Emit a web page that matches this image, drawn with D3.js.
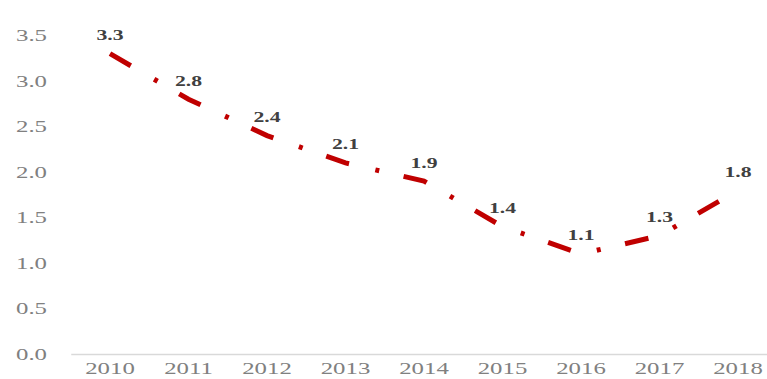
<!DOCTYPE html>
<html>
<head>
<meta charset="utf-8">
<script src="https://cdn.jsdelivr.net/npm/d3@7"></script>
<style>
  html, body { margin: 0; padding: 0; background: #fff; }
  svg { display: block; }
</style>
</head>
<body>
<svg id="chart" width="767" height="379"></svg>
<script>
const years = ["2010","2011","2012","2013","2014","2015","2016","2017","2018"];
const values = [3.3, 2.8, 2.4, 2.1, 1.9, 1.4, 1.1, 1.3, 1.8];
const yTicks = [0, 0.5, 1.0, 1.5, 2.0, 2.5, 3.0, 3.5];

const W = 767, H = 379;
const stretch = 1.55;
const svg = d3.select("#chart");

const x = d3.scaleBand().domain(years).range([70.75, 777.25]).padding(0);
const y = d3.scaleLinear().domain([0, 3.5]).range([354, 35.5]);
const cx = d => x(d) + x.bandwidth() / 2;

// X axis
const xAxis = svg.append("g")
  .attr("transform", "translate(0,354)")
  .call(d3.axisBottom(x).tickSize(0).tickPadding(9));
xAxis.select(".domain").attr("stroke", "#d9d9d9").attr("stroke-width", 1.5);
xAxis.selectAll("text")
  .attr("font-family", "'Liberation Serif', 'Times New Roman', serif")
  .attr("font-size", 16)
  .attr("fill", "#808080")
  .attr("transform", `scale(${stretch},1)`);

// Y axis (labels only)
const yAxis = svg.append("g")
  .attr("transform", "translate(71,0)")
  .call(d3.axisLeft(y).tickValues(yTicks).tickFormat(d3.format(".1f")).tickSize(0));
yAxis.select(".domain").remove();
yAxis.selectAll("text")
  .attr("x", 0)
  .attr("font-family", "'Liberation Serif', 'Times New Roman', serif")
  .attr("font-size", 16)
  .attr("fill", "#808080")
  .attr("transform", `translate(-24,0) scale(${stretch},1)`);

// Line
const line = d3.line()
  .x((d, i) => cx(years[i]))
  .y(d => y(d));

svg.append("path")
  .datum(values)
  .attr("d", line)
  .attr("fill", "none")
  .attr("stroke", "#c00000")
  .attr("stroke-width", 5)
  .attr("stroke-dasharray", "24,27,4,25");

// Data labels
svg.append("g").selectAll("text")
  .data(values)
  .join("text")
  .attr("transform", (d, i) => `translate(${cx(years[i])},${y(d) - 13.5}) scale(${stretch},1)`)
  .attr("text-anchor", "middle")
  .attr("font-family", "'Liberation Serif', 'Times New Roman', serif")
  .attr("font-weight", "bold")
  .attr("font-size", 14)
  .attr("fill", "#404040")
  .text(d => d.toFixed(1));
</script>
</body>
</html>
